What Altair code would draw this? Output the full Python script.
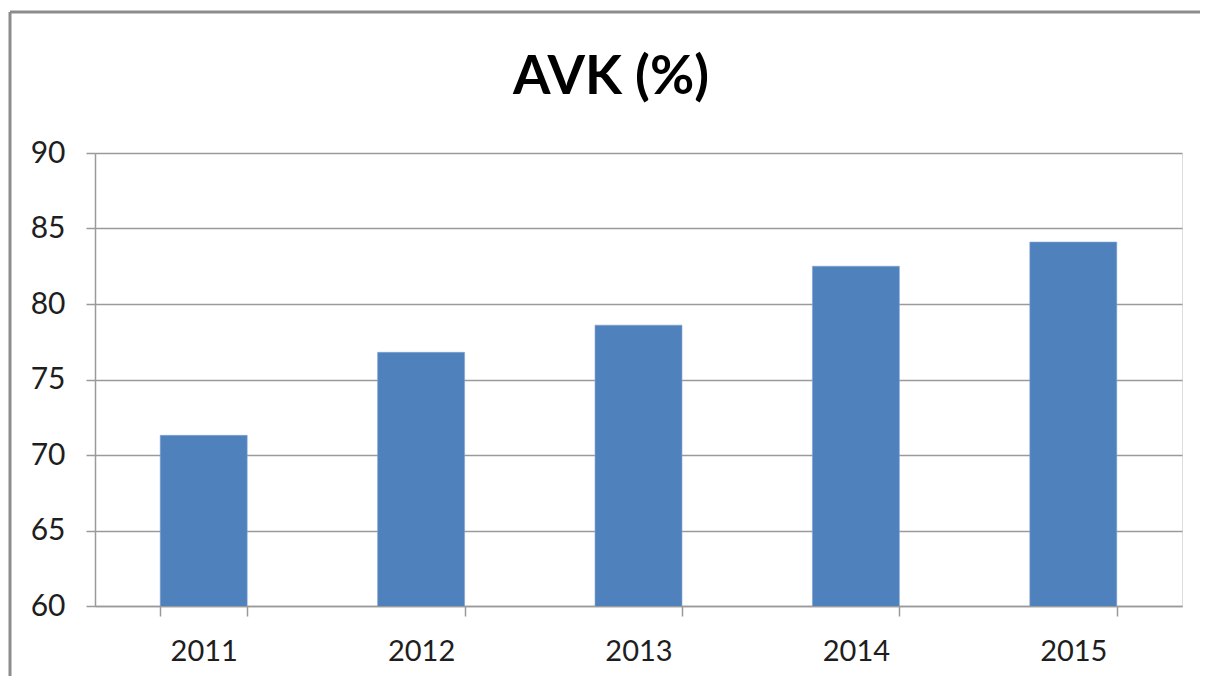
import altair as alt
import pandas as pd

years = ["2011", "2012", "2013", "2014", "2015"]
values = [71.3, 76.8, 78.6, 82.5, 84.1]
title_text = "AVK (%)"

df = pd.DataFrame({"year": years, "value": values})

W, H = 1087, 453
FONT = "Lato"

bars = alt.Chart(df).mark_bar(color="#4F81BD", stroke="#7FA3D0", strokeWidth=0.6, clip=True).encode(
    x=alt.X("year:N", sort=years,
            scale=alt.Scale(paddingInner=0.6, paddingOuter=0.3),
            axis=alt.Axis(title=None, labelAngle=0, tickBand="extent", grid=False,
                          tickSize=10, tickColor="#9a9a9a", tickWidth=1.5,
                          domainColor="#9a9a9a", domainWidth=1.5,
                          labelFont=FONT, labelFontSize=29, labelColor="#1e1e1e",
                          labelPadding=21)),
    y=alt.Y("value:Q", scale=alt.Scale(domain=[60, 90], nice=False, zero=False),
            axis=alt.Axis(title=None, values=[60, 65, 70, 75, 80, 85, 90],
                          grid=True, gridColor="#9a9a9a", gridWidth=1.5,
                          tickSize=9, tickColor="#9a9a9a", tickWidth=1.5,
                          domainColor="#9a9a9a", domainWidth=1.5,
                          labelFont=FONT, labelFontSize=30, labelColor="#1e1e1e",
                          labelPadding=21)),
)

title = alt.Chart(pd.DataFrame({"t": [title_text]})).mark_text(
    font=FONT, fontSize=54, fontWeight="bold", color="#000000",
    align="center", baseline="middle"
).encode(text="t:N", x=alt.value(516), y=alt.value(-75))

frame_top = alt.Chart(pd.DataFrame({"a": [0]})).mark_rule(color="#8c8c8c", strokeWidth=3).encode(
    x=alt.value(-85), x2=alt.value(1105), y=alt.value(-141))
frame_left = alt.Chart(pd.DataFrame({"a": [0]})).mark_rule(color="#8c8c8c", strokeWidth=3).encode(
    x=alt.value(-85), y=alt.value(-141), y2=alt.value(523))

chart = alt.layer(bars, title, frame_top, frame_left).properties(
    width=W, height=H,
    autosize=alt.AutoSizeParams(type="none"),
    padding={"left": 87, "top": 145, "right": 18, "bottom": 70},
).configure_view(stroke=None).configure(background="white")

chart.save("out.html", embed_options={"renderer": "svg", "actions": False})
